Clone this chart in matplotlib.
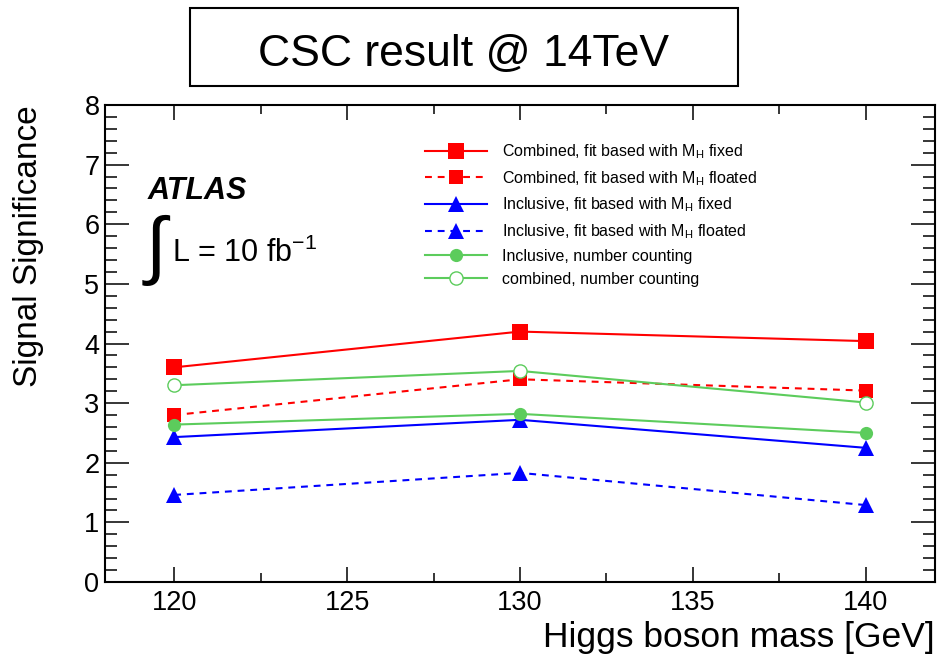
import matplotlib
matplotlib.use("Agg")
import matplotlib.pyplot as plt
import matplotlib.ticker as ticker
from matplotlib.patches import Rectangle

plt.rcParams["font.family"] = ["Liberation Sans", "DejaVu Sans"]
plt.rcParams["mathtext.fontset"] = "custom"
plt.rcParams["mathtext.rm"] = "Liberation Sans"
plt.rcParams["mathtext.it"] = "Liberation Sans:italic"

# Higgs mass points (GeV) and signal significances.
mass = [120, 130, 140]
comb_fixed = [3.60, 4.20, 4.04]
comb_float = [2.80, 3.40, 3.21]
incl_fixed = [2.43, 2.72, 2.25]
incl_float = [1.46, 1.83, 1.29]
incl_count = [2.64, 2.82, 2.50]
comb_count = [3.30, 3.54, 3.01]

labels = [
    r"Combined, fit based with M$_{\mathrm{H}}$ fixed",
    r"Combined, fit based with M$_{\mathrm{H}}$ floated",
    r"Inclusive, fit based with M$_{\mathrm{H}}$ fixed",
    r"Inclusive, fit based with M$_{\mathrm{H}}$ floated",
    "Inclusive, number counting",
    "combined, number counting",
]

red = "#ff0000"
blue = "#0000ff"
green = "#5ccc5c"
dash = (3.3, 2.8)

fig = plt.figure(figsize=(9.51, 6.55), dpi=100)
ax = fig.add_axes([105 / 951, 73 / 655, 830 / 951, 477 / 655])

ax.plot(mass, comb_fixed, color=red, lw=1.5, marker="s", ms=11.5, mew=0, label=labels[0])
ax.plot(mass, comb_float, color=red, lw=1.5, ls=(0, dash), marker="s", ms=10, mew=0, label=labels[1])
ax.plot(mass, incl_fixed, color=blue, lw=1.5, marker="^", ms=12, mew=0, label=labels[2])
ax.plot(mass, incl_float, color=blue, lw=1.5, ls=(0, dash), marker="^", ms=12, mew=0, label=labels[3])
ax.plot(mass, incl_count, color=green, lw=1.5, marker="o", ms=9.5, mew=0, label=labels[4])
ax.plot(mass, comb_count, color=green, lw=1.5, marker="o", ms=9.5, mfc="white", mec=green, mew=1.0,
        label=labels[5])

ax.set_xlim(118, 142)
ax.set_ylim(0, 8)
ax.xaxis.set_major_locator(ticker.MultipleLocator(5))
ax.xaxis.set_minor_locator(ticker.MultipleLocator(2.5))
ax.yaxis.set_major_locator(ticker.MultipleLocator(1))
ax.yaxis.set_minor_locator(ticker.MultipleLocator(0.2))

for s in ax.spines.values():
    s.set_linewidth(1.5)

ax.tick_params(which="both", direction="in", top=True, right=True, width=1.1, labelsize=19.5)
ax.tick_params(axis="x", which="major", length=11, pad=6)
ax.tick_params(axis="x", which="minor", length=6.5)
ax.tick_params(axis="y", which="major", length=17.5, pad=4)
ax.tick_params(axis="y", which="minor", length=8.5)

leg = ax.legend(loc="upper left", bbox_to_anchor=(0.3855, 0.922), frameon=False, fontsize=11.5,
                borderpad=0, borderaxespad=0, handlelength=3.9, handletextpad=0.9, labelspacing=0.5)

# ATLAS label and luminosity
ax.text(119.24, 6.43, "ATLAS", fontsize=22, fontweight="bold", fontstyle="italic")
ax.text(119.18, 5.23, "\u222b", fontsize=54)
ax.text(119.93, 5.37, r"L = 10 fb$^{\mathregular{-1}}$", fontsize=22)

# axis titles
fig.text(935 / 951, 1 - 647 / 655, "Higgs boson mass [GeV]", fontsize=25.5, ha="right", va="baseline")
fig.text(29 / 951, 1 - 105 / 655, "Signal Significance", fontsize=24, rotation=90, ha="center", va="top")

# boxed header
fig.patches.append(Rectangle((190 / 951, 1 - 86 / 655), 548 / 951, 78 / 655, transform=fig.transFigure,
                             fill=False, edgecolor="black", linewidth=1.5))
fig.text(464 / 951, 1 - 66 / 655, "CSC result @ 14TeV", fontsize=32, ha="center", va="baseline")

fig.savefig("out.png", dpi=100)
